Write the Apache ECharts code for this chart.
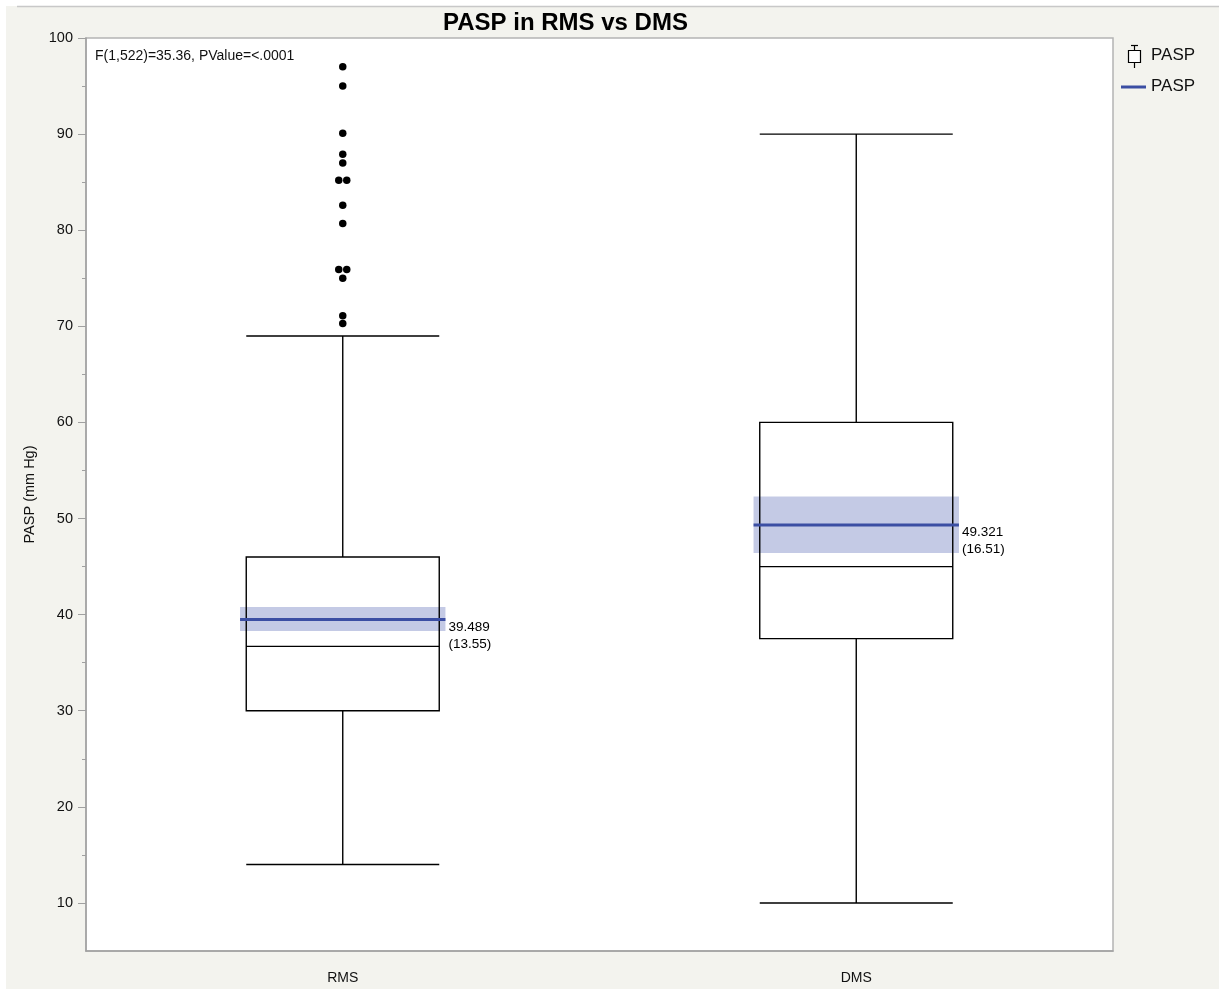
<!DOCTYPE html>
<html>
<head>
<meta charset="utf-8">
<script src="https://cdn.jsdelivr.net/npm/echarts@6/dist/echarts.min.js"></script>
<style>
html,body{margin:0;padding:0;background:#fff;}
#chart{width:1219px;height:989px;}
</style>
</head>
<body>
<div id="chart"></div>
<script>
// ---- data ----
const categories = ['RMS', 'DMS'];
const boxStats = [            // [min whisker, Q1, median, Q3, max whisker]
  [14, 30, 36.7, 46, 69],
  [10, 37.5, 45, 60, 90]
];
const outliersRMS = [97, 95, 90.1, 87.9, 87, 85.2, 85.2, 82.6, 80.7, 75.9, 75.9, 75, 71.1, 70.3];
const meanValues = [39.489, 49.321];
const sdValues = [13.55, 16.51];
const ciLow = [38.3, 46.4];
const ciHigh = [40.8, 52.3];
const majorTicks = [10, 20, 30, 40, 50, 60, 70, 80, 90, 100];
const minorTicks = [15, 25, 35, 45, 55, 65, 75, 85, 95];
const annotation = 'F(1,522)=35.36, PValue=<.0001';
const titleText = 'PASP in RMS vs DMS';
const yName = 'PASP (mm Hg)';
const legendName = 'PASP';

// ---- build ----
const FONT = '"Liberation Sans", Arial, Helvetica, sans-serif';
const chart = echarts.init(document.getElementById('chart'), null, {renderer: 'canvas'});

// jitter duplicates horizontally
const counts = {};
outliersRMS.forEach(v => counts[v] = (counts[v] || 0) + 1);
const seen = {};
const outlierData = outliersRMS.map(v => {
  const n = counts[v];
  const k = seen[v] = (seen[v] || 0) + 1;
  const off = n > 1 ? (k - (n + 1) / 2) * 8 : 0;
  return {value: [0, v], symbolOffset: [off, 0]};
});

const meanData = categories.map((c, i) => [i, meanValues[i], ciLow[i], ciHigh[i], sdValues[i]]);

const option = {
  backgroundColor: '#ffffff',
  animation: false,
  textStyle: {fontFamily: FONT},
  title: {
    text: titleText,
    left: 438, top: 6,
    textStyle: {fontFamily: FONT, fontSize: 24, fontWeight: 'bold', color: '#000'}
  },
  grid: {
    left: 86, right: 106, top: 38, bottom: 38,
    show: true, backgroundColor: '#ffffff', borderColor: '#b4b4b4', borderWidth: 1.5
  },
  xAxis: {
    type: 'category',
    data: categories,
    boundaryGap: true,
    axisLine: {lineStyle: {color: '#a0a0a0', width: 1.5}},
    axisTick: {show: false},
    axisLabel: {fontSize: 14, color: '#111', margin: 20, fontFamily: FONT},
    splitLine: {show: false}
  },
  yAxis: [{
    type: 'value',
    min: 5, max: 100,
    name: yName,
    nameLocation: 'middle',
    nameGap: 43,
    nameTextStyle: {fontSize: 14.5, color: '#111', fontFamily: FONT},
    axisLine: {show: true, lineStyle: {color: '#a0a0a0', width: 1.5}},
    axisTick: {show: true, customValues: majorTicks, length: 8, lineStyle: {color: '#a0a0a0'}},
    axisLabel: {customValues: majorTicks, fontSize: 14.5, color: '#111', margin: 13, fontFamily: FONT},
    splitLine: {show: false}
  }, {
    type: 'value',
    min: 5, max: 100,
    position: 'left',
    axisLine: {show: false},
    axisTick: {show: true, customValues: minorTicks, length: 4, lineStyle: {color: '#a0a0a0'}},
    axisLabel: {show: false},
    splitLine: {show: false}
  }],
  series: [{
    type: 'custom',
    name: 'mean',
    z: 1,
    data: meanData,
    renderItem: function (params, api) {
      const idx = api.value(0);
      const pm = api.coord([idx, api.value(1)]);
      const pl = api.coord([idx, api.value(2)]);
      const ph = api.coord([idx, api.value(3)]);
      const half = api.size([1, 0])[0] * 0.4 / 2;
      const x0 = pm[0] - half, x1 = pm[0] + half;
      return {
        type: 'group',
        children: [{
          type: 'rect',
          shape: {x: x0, y: ph[1], width: x1 - x0, height: pl[1] - ph[1]},
          style: {fill: 'rgba(60,80,170,0.30)'},
          z2: 1
        }, {
          type: 'text',
          style: {
            x: x1 + 3, y: pm[1] - 1,
            text: api.value(1).toFixed(3) + '\n(' + api.value(4).toFixed(2) + ')',
            font: '13.5px ' + FONT,
            fill: '#000',
            lineHeight: 17,
            verticalAlign: 'top', align: 'left'
          },
          z2: 30
        }]
      };
    }
  }, {
    type: 'boxplot',
    name: 'box',
    z: 3,
    data: boxStats,
    boxWidth: [193, 193],
    itemStyle: {color: 'rgba(0,0,0,0)', borderColor: '#000', borderWidth: 1.4},
    emphasis: {disabled: true}
  }, {
    type: 'custom',
    name: 'meanline',
    z: 4,
    data: meanData,
    renderItem: function (params, api) {
      const idx = api.value(0);
      const pm = api.coord([idx, api.value(1)]);
      const half = api.size([1, 0])[0] * 0.4 / 2;
      return {
        type: 'line',
        shape: {x1: pm[0] - half, y1: pm[1], x2: pm[0] + half, y2: pm[1]},
        style: {stroke: '#3b4ea3', lineWidth: 3}
      };
    }
  }, {
    type: 'scatter',
    name: 'outliers',
    z: 5,
    data: outlierData,
    symbol: 'circle',
    symbolSize: 7.5,
    itemStyle: {color: '#000', opacity: 1},
    emphasis: {disabled: true}
  }],
  graphic: [{
    type: 'rect', z: -10, silent: true,
    shape: {x: 6, y: 6, width: 1213, height: 983},
    style: {fill: '#f3f3ee'}
  }, {
    type: 'line', z: -9, silent: true,
    shape: {x1: 17, y1: 6.5, x2: 1219, y2: 6.5},
    style: {stroke: '#c8c8c8', lineWidth: 1.5}
  }, {
    type: 'text', z: 100,
    style: {x: 95, y: 56, text: annotation, font: '14px ' + FONT, fill: '#111', verticalAlign: 'middle'}
  }, {
    type: 'group', z: 100,
    children: [
      {type: 'line', shape: {x1: 1134.5, y1: 45, x2: 1134.5, y2: 68}, style: {stroke: '#000', lineWidth: 1.2}},
      {type: 'line', shape: {x1: 1131, y1: 45.5, x2: 1138, y2: 45.5}, style: {stroke: '#000', lineWidth: 1.2}},
      {type: 'rect', shape: {x: 1128.5, y: 50.5, width: 12, height: 12}, style: {fill: '#fff', stroke: '#000', lineWidth: 1.2}},
      {type: 'text', style: {x: 1151, y: 55, text: legendName, font: '17px ' + FONT, fill: '#111', verticalAlign: 'middle'}},
      {type: 'line', shape: {x1: 1121, y1: 87, x2: 1146, y2: 87}, style: {stroke: '#3b4ea3', lineWidth: 3}},
      {type: 'text', style: {x: 1151, y: 86, text: legendName, font: '17px ' + FONT, fill: '#111', verticalAlign: 'middle'}}
    ]
  }]
};
chart.setOption(option);
</script>
</body>
</html>
